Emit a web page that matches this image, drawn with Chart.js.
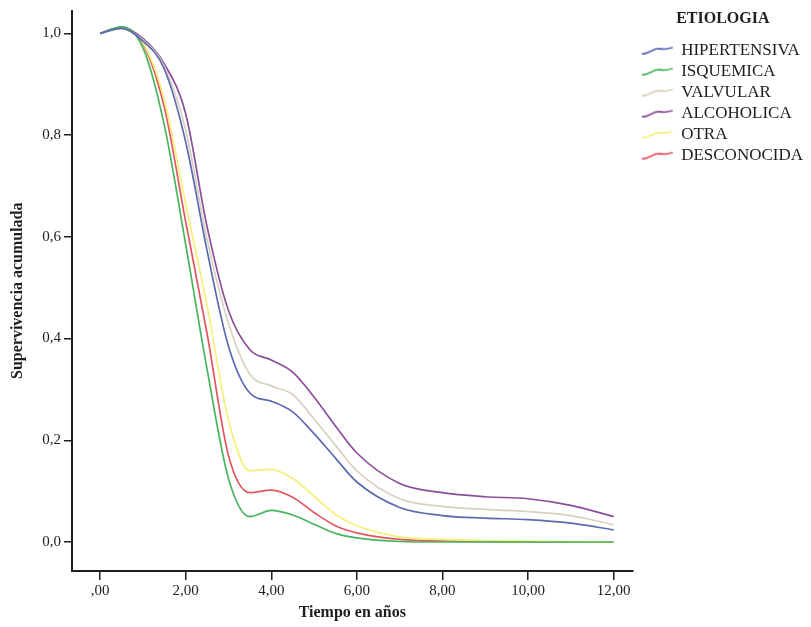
<!DOCTYPE html>
<html>
<head>
<meta charset="utf-8">
<script src="https://cdn.jsdelivr.net/npm/chart.js@4/dist/chart.umd.min.js"></script>
<style>
  html, body { margin: 0; padding: 0; background: #fff; }
  #wrap { width: 811px; height: 627px; }
</style>
</head>
<body>
<div id="wrap"><canvas id="chart"></canvas></div>
<script>
// Tiempo en años (shared x values for every curve)
const times = [0, 0.5, 1, 1.5, 2, 2.5, 3, 3.5, 4, 4.5, 5, 5.5, 6, 7, 8, 9, 10, 11, 12];

// Supervivencia acumulada por etiología
const hipertensiva = [1.0, 1.01, 0.985, 0.93, 0.787, 0.573, 0.385, 0.293, 0.277, 0.256, 0.213, 0.165, 0.118, 0.068, 0.052, 0.047, 0.044, 0.037, 0.024];
const isquemica    = [1.0, 1.013, 0.972, 0.82, 0.585, 0.34, 0.125, 0.05, 0.062, 0.053, 0.035, 0.017, 0.008, 0.001, 0, 0, 0, 0, 0];
const valvular     = [1.0, 1.01, 0.987, 0.935, 0.81, 0.595, 0.43, 0.33, 0.307, 0.29, 0.242, 0.19, 0.14, 0.085, 0.07, 0.064, 0.06, 0.052, 0.034];
const alcoholica   = [1.0, 1.012, 0.99, 0.94, 0.842, 0.62, 0.455, 0.378, 0.358, 0.334, 0.285, 0.228, 0.175, 0.115, 0.097, 0.089, 0.085, 0.072, 0.05];
const otra         = [1.0, 1.012, 0.982, 0.87, 0.665, 0.465, 0.24, 0.14, 0.143, 0.125, 0.09, 0.054, 0.032, 0.01, 0.005, 0.003, 0.002, 0.001, 0];
const desconocida  = [1.0, 1.012, 0.98, 0.855, 0.63, 0.41, 0.17, 0.097, 0.102, 0.088, 0.058, 0.032, 0.018, 0.005, 0.002, 0.001, 0, 0, 0];

const seriesNames = ['HIPERTENSIVA', 'ISQUEMICA', 'VALVULAR', 'ALCOHOLICA', 'OTRA', 'DESCONOCIDA'];
const seriesData = [hipertensiva, isquemica, valvular, alcoholica, otra, desconocida];
const seriesColors = ['#5b6ab3', '#48b55c', '#d9d1bf', '#8b4e9a', '#f5f07c', '#e2565f'];

const xTicks = [0, 2, 4, 6, 8, 10, 12];
const yTicks = [0, 0.2, 0.4, 0.6, 0.8, 1.0];

const SERIF = '"Liberation Serif", "DejaVu Serif", serif';
const INK = '#1e1e1e';

// small wavy line for the legend, like the SPSS one (left part left blank on purpose)
function waveIcon(color) {
    const c = document.createElement('canvas');
    c.width = 36; c.height = 10;
    const g = c.getContext('2d');
    g.strokeStyle = color;
    g.lineWidth = 1.8;
    g.lineCap = 'round';
    g.beginPath();
    g.moveTo(6, 8);
    g.bezierCurveTo(13, 8, 17, 2, 23, 3);
    g.bezierCurveTo(29, 4, 32, 3, 35, 2);
    g.stroke();
    return c;
}

// "2,00" / "0,2" style labels
function fmtX(v) {
    const s = v.toFixed(2).replace('.', ',');
    return v === 0 ? ',00' : s;
}
function fmtY(v) {
    return v.toFixed(1).replace('.', ',');
}

const datasets = seriesNames.map((name, i) => ({
    label: name,
    data: times.map((t, k) => ({ x: t, y: seriesData[i][k] })),
    borderColor: seriesColors[i],
    backgroundColor: seriesColors[i],
    borderWidth: 1.7,
    pointRadius: 0,
    cubicInterpolationMode: 'monotone',
    fill: false
}));

const ctx = document.getElementById('chart').getContext('2d');
new Chart(ctx, {
    type: 'line',
    data: { datasets },
    options: {
        responsive: true,
        maintainAspectRatio: false,
        animation: false,
        layout: { padding: { top: 9, right: -2, bottom: 0, left: 0 } },
        plugins: {
            tooltip: { enabled: false },
            legend: {
                position: 'right',
                align: 'start',
                title: {
                    display: true,
                    text: 'ETIOLOGIA',
                    color: INK,
                    font: { family: SERIF, size: 16, weight: 'bold' },
                    padding: { top: 2, bottom: 8 }
                },
                labels: {
                    color: INK,
                    font: { family: SERIF, size: 17 },
                    usePointStyle: true,
                    pointStyleWidth: 36,
                    padding: 4,
                    generateLabels(chart) {
                        const items = Chart.defaults.plugins.legend.labels.generateLabels(chart);
                        items.forEach(it => { it.pointStyle = waveIcon(seriesColors[it.datasetIndex]); });
                        return items;
                    }
                }
            }
        },
        scales: {
            x: {
                type: 'linear',
                min: -0.656,
                max: 12.445,
                afterBuildTicks: (scale) => { scale.ticks = xTicks.map(v => ({ value: v })); },
                afterFit: (scale) => { scale.height = 56; },
                ticks: {
                    color: INK,
                    font: { family: SERIF, size: 15 },
                    padding: 2,
                    maxRotation: 0,
                    callback: (v) => fmtX(v)
                },
                grid: { display: true, drawOnChartArea: false, drawTicks: true, tickLength: 9, color: INK, lineWidth: 1.5 },
                border: { display: true, color: INK, width: 2 },
                title: {
                    display: true,
                    text: 'Tiempo en años',
                    color: INK,
                    font: { family: SERIF, size: 16, weight: 'bold' },
                    padding: { top: 0, bottom: 5 }
                }
            },
            y: {
                type: 'linear',
                min: -0.057,
                max: 1.045,
                afterBuildTicks: (scale) => { scale.ticks = yTicks.map(v => ({ value: v })); },
                afterFit: (scale) => { scale.width = 72; },
                ticks: {
                    color: INK,
                    font: { family: SERIF, size: 15, lineHeight: 1 },
                    padding: 3,
                    callback: (v) => fmtY(v)
                },
                grid: { display: true, drawOnChartArea: false, drawTicks: true, tickLength: 8, color: INK, lineWidth: 1.5 },
                border: { display: true, color: INK, width: 2 },
                title: {
                    display: true,
                    text: 'Supervivencia acumulada',
                    color: INK,
                    font: { family: SERIF, size: 16, weight: 'bold' },
                    padding: { top: 8, bottom: 0 }
                }
            }
        }
    }
});
</script>
</body>
</html>
